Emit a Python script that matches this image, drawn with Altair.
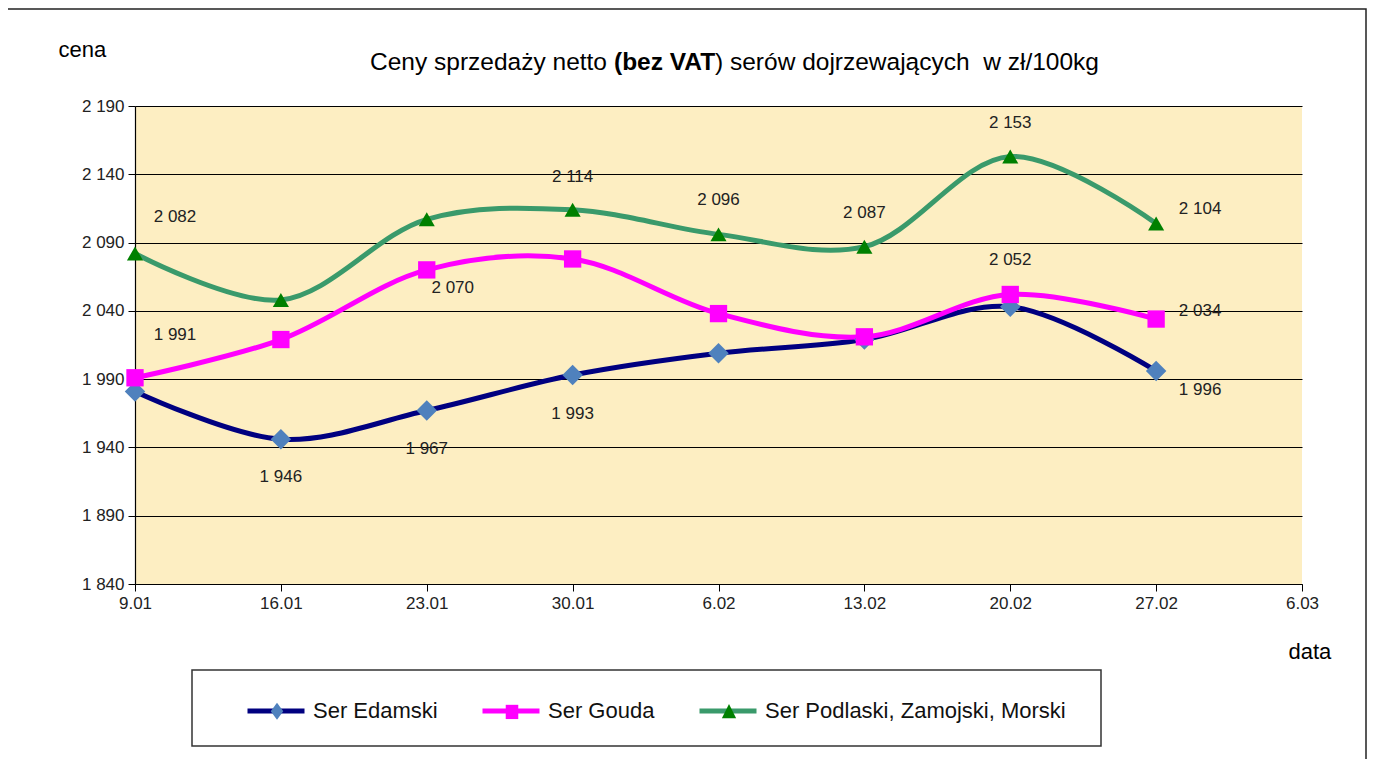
import altair as alt
import pandas as pd

# ---------------- data ----------------
DATES = ["9.01", "16.01", "23.01", "30.01", "6.02", "13.02", "20.02", "27.02", "6.03"]
SERIES = ["Ser Edamski", "Ser Gouda", "Ser Podlaski, Zamojski, Morski"]
EDAMSKI = [1981, 1946, 1967, 1993, 2009, 2019, 2043, 1996]
GOUDA = [1991, 2019, 2070, 2078, 2038, 2021, 2052, 2034]
PODLASKI = [2082, 2048, 2107, 2114, 2096, 2087, 2153, 2104]
Y_TICKS = [1840, 1890, 1940, 1990, 2040, 2090, 2140, 2190]
LABELLED_EDAMSKI = ["16.01", "23.01", "30.01", "27.02"]
LABELLED_GOUDA = ["9.01", "23.01", "20.02", "27.02"]
LABELLED_PODLASKI = ["9.01", "30.01", "6.02", "13.02", "20.02", "27.02"]
TITLE_PARTS = ["Ceny sprzedaży netto", "(bez VAT", ") serów dojrzewających \u00a0w zł/100kg"]
Y_TITLE = "cena"
X_TITLE = "data"

# ---------------- styles ----------------
FONT = "Liberation Sans, Arial, sans-serif"
LINE_COLORS = ["#000080", "#FF00FF", "#3A9A6B"]
MARKER_COLORS = ["#4F81BD", "#FF00FF", "#008000"]
MARKER_SHAPES = ["diamond", "square", "triangle-up"]
MARKER_SIZES = [420, 300, 260]
LEGEND_MARKERS = [
    "M0,-0.3L0.22,0L0,0.3L-0.22,0Z",
    "M-0.22,-0.25L0.22,-0.25L0.22,0.25L-0.22,0.25Z",
    "M0,-0.3L0.25,0.2L-0.25,0.2Z",
]
# label offsets (dx, dy) per (series index, date)
OFFSETS = {
    (0, "16.01"): (0, 38), (0, "23.01"): (0, 38), (0, "30.01"): (0, 39), (0, "27.02"): (44, 19),
    (1, "9.01"): (40, -43), (1, "23.01"): (26, 18), (1, "20.02"): (0, -34), (1, "27.02"): (44, -8),
    (2, "9.01"): (40, -36), (2, "30.01"): (0, -33), (2, "6.02"): (0, -34), (2, "13.02"): (0, -34),
    (2, "20.02"): (0, -34), (2, "27.02"): (44, -14),
}

W, H = 1167, 478

rows = []
labelled = [LABELLED_EDAMSKI, LABELLED_GOUDA, LABELLED_PODLASKI]
for si, (name, vals) in enumerate(zip(SERIES, [EDAMSKI, GOUDA, PODLASKI])):
    for d, v in zip(DATES, vals):
        rows.append({"series": name, "sidx": si, "date": d, "value": v,
                     "labelled": d in labelled[si]})
df = pd.DataFrame(rows)

x_enc = alt.X("date:N", sort=DATES,
              scale=alt.Scale(type="point", domain=DATES, padding=0),
              axis=alt.Axis(labelAngle=0, labelFont=FONT, labelFontSize=17, labelColor="#222",
                            labelPadding=4, tickSize=7, tickColor="#000", domainColor="#000",
                            domainWidth=1.2, grid=False,
                            title=X_TITLE, titleFont=FONT, titleFontSize=22,
                            titleFontWeight="normal", titleColor="#000",
                            titleX=1153, titleY=74, titleAlign="left",
                            titleBaseline="alphabetic"))
y_enc = alt.Y("value:Q",
              scale=alt.Scale(domain=[1840, 2190], nice=False, zero=False),
              axis=alt.Axis(values=Y_TICKS,
                            labelExpr="replace(format(datum.value, ','), ',', ' ')",
                            labelFont=FONT, labelFontSize=17, labelColor="#222",
                            labelPadding=4, tickSize=7, tickColor="#000",
                            domainColor="#000", domainWidth=1.2,
                            grid=True, gridColor="#000", gridWidth=1, gridOpacity=1,
                            title=Y_TITLE, titleFont=FONT, titleFontSize=22,
                            titleFontWeight="normal", titleColor="#000",
                            titleAngle=0, titleX=-77, titleY=-50, titleAlign="left",
                            titleBaseline="alphabetic"))

base = alt.Chart(df).encode(x=x_enc, y=y_enc)

one = alt.Data(values=[{"k": 1}])

outer = alt.Chart(one).mark_rect(fill="transparent", stroke="#222", strokeWidth=1.5).encode(
    x=alt.value(-129), x2=alt.value(1231), y=alt.value(-97), y2=alt.value(720))

legend_box = alt.Chart(one).mark_rect(fill="white", stroke="#333", strokeWidth=1.5).encode(
    x=alt.value(57), x2=alt.value(966), y=alt.value(564), y2=alt.value(640))

legend_common = dict(orient="none", legendY=574, direction="horizontal",
                     title=None, symbolSize=3249, symbolStrokeWidth=5, labelFont=FONT,
                     labelFontSize=22, labelColor="#111", labelOffset=6, labelLimit=500,
                     padding=0)

lines = base.mark_line(interpolate="catmull-rom", strokeWidth=5, strokeCap="round").encode(
    color=alt.Color("series:N", sort=SERIES,
                    scale=alt.Scale(domain=SERIES, range=LINE_COLORS),
                    legend=alt.Legend(symbolType="M-1,0L1,0", legendX=110, columnPadding=34,
                                      **legend_common)),
    order="sidx:Q",
)

point_layers = []
for si, name in enumerate(SERIES):
    point_layers.append(
        base.transform_filter(alt.datum.series == name).mark_point(
            filled=True, shape=MARKER_SHAPES[si], size=MARKER_SIZES[si],
            color=MARKER_COLORS[si], opacity=1, strokeWidth=0)
    )

text_layers = []
for (si, d), (dx, dy) in OFFSETS.items():
    text_layers.append(
        base.transform_filter((alt.datum.sidx == si) & (alt.datum.date == d))
        .transform_calculate(label="replace(format(datum.value, ','), ',', ' ')")
        .mark_text(dx=dx, dy=dy, font=FONT, fontSize=17, color="#222",
                   align="center", baseline="middle")
        .encode(text="label:N")
    )

legend_markers = base.transform_filter("false").mark_point(filled=True, opacity=1).encode(
    fill=alt.Fill("series:N", sort=SERIES,
                  scale=alt.Scale(domain=SERIES, range=MARKER_COLORS),
                  legend=alt.Legend(symbolStrokeColor="transparent", symbolOpacity=1,
                                    labelOpacity=0, legendX=111, columnPadding=42,
                                    **legend_common)),
    shape=alt.Shape("series:N", sort=SERIES,
                    scale=alt.Scale(domain=SERIES, range=LEGEND_MARKERS)),
)

title_y = -36
TFS = 24.5
t1 = alt.Chart(one).mark_text(text=TITLE_PARTS[0], font=FONT, fontSize=TFS, color="#000",
                              align="right", baseline="alphabetic").encode(
    x=alt.value(472), y=alt.value(title_y))
t2 = alt.Chart(one).mark_text(text=TITLE_PARTS[1], font=FONT, fontSize=TFS, fontWeight="bold",
                              color="#000", align="left", baseline="alphabetic").encode(
    x=alt.value(479), y=alt.value(title_y))
t3 = alt.Chart(one).mark_text(text=TITLE_PARTS[2], font=FONT, fontSize=TFS, color="#000",
                              align="left", baseline="alphabetic").encode(
    x=alt.value(580), y=alt.value(title_y))

chart = alt.layer(
    outer, legend_box, lines, *point_layers, *text_layers, t1, t2, t3, legend_markers
).resolve_scale(
    color="independent", fill="independent", shape="independent"
).properties(
    width=W, height=H,
    background="white",
    autosize=alt.AutoSizeParams(type="none"),
    padding={"left": 127, "top": 98, "right": 65, "bottom": 175},
).configure_view(
    fill="#FDEEC2", stroke=None
)

chart.save("out.html", embed_options={"renderer": "svg", "actions": False})
